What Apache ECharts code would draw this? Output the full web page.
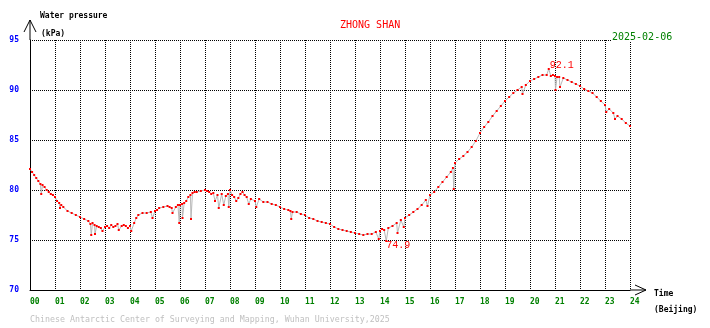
<!DOCTYPE html>
<html>
<head>
<meta charset="utf-8">
<script src="https://cdn.jsdelivr.net/npm/echarts@6/dist/echarts.min.js"></script>
<style>
html,body{margin:0;padding:0;background:#fff;}
#c{width:710px;height:328px;}
</style>
</head>
<body>
<div id="c"></div>
<script>
// ---- data (hour of day, Beijing time) ----
const hours = [
0,0.083,0.167,0.25,0.333,0.417,0.45,0.5,0.583,0.667,0.75,0.833,0.917,
1,1.083,1.167,1.2,1.25,1.333,1.5,1.667,1.833,
2,2.167,2.333,2.417,2.45,2.5,2.583,2.6,2.667,2.75,2.833,2.9,
3,3.083,3.167,3.25,3.333,3.417,3.5,3.55,3.667,3.75,3.833,3.917,
4,4.05,4.167,4.25,4.333,4.5,4.667,4.833,4.9,
5,5.083,5.167,5.333,5.5,5.583,5.667,5.7,5.833,5.917,5.97,
6,6.083,6.1,6.167,6.25,6.333,6.417,6.44,6.5,6.583,6.667,6.833,
7,7.083,7.167,7.25,7.333,7.4,7.5,7.55,7.667,7.75,7.833,7.917,7.95,
8,8.083,8.167,8.25,8.333,8.417,8.5,8.583,8.667,8.75,8.833,
9,9.05,9.167,9.333,9.5,9.667,9.833,
10,10.167,10.333,10.417,10.45,10.5,10.667,10.833,
11,11.167,11.333,11.5,11.667,11.833,
12,12.167,12.333,12.5,12.667,12.833,
13,13.167,13.333,13.5,13.667,13.833,13.95,
14,14.083,14.167,14.25,14.333,14.5,14.667,14.7,14.833,14.95,
15,15.167,15.333,15.5,15.667,15.833,15.9,
16,16.167,16.333,16.5,16.667,16.833,16.917,16.95,
17,17.167,17.333,17.5,17.667,17.833,
18,18.167,18.333,18.5,18.667,18.833,
19,19.167,19.333,19.5,19.667,19.7,19.833,
20,20.167,20.333,20.5,20.667,20.75,20.833,20.917,
21,21.02,21.083,21.167,21.2,21.333,21.5,21.667,21.833,
22,22.167,22.333,22.5,22.667,22.833,
23,23.05,23.167,23.333,23.4,23.5,23.667,23.833,
24
];
const pressure = [
82.1,81.8,81.5,81.2,80.9,80.6,79.6,80.5,80.3,80.0,79.8,79.6,79.5,
79.3,78.9,78.7,78.2,78.5,78.3,77.9,77.7,77.5,
77.3,77.1,76.9,76.6,75.5,76.7,76.5,75.6,76.4,76.3,76.2,75.9,
76.3,76.4,76.2,76.5,76.3,76.4,76.6,76.0,76.4,76.5,76.4,76.2,
76.4,75.9,76.7,77.2,77.5,77.7,77.7,77.8,77.2,
77.9,78.0,78.2,78.3,78.4,78.3,78.2,77.7,78.3,78.5,76.7,
78.5,78.6,77.2,78.7,78.9,79.3,79.5,77.1,79.7,79.8,79.8,79.9,
80.0,79.9,79.8,79.6,79.7,78.9,79.5,78.2,79.6,78.5,79.4,79.6,78.3,
80.0,79.5,79.3,78.9,79.2,79.6,79.8,79.5,79.3,78.6,79.1,
78.9,78.3,79.1,78.8,78.8,78.6,78.5,
78.3,78.1,78.0,77.9,77.1,77.8,77.8,77.6,
77.5,77.2,77.1,76.9,76.8,76.7,
76.6,76.3,76.1,76.0,75.9,75.8,
75.7,75.6,75.5,75.6,75.6,75.8,75.1,
75.9,76.1,76.0,74.9,76.2,76.4,76.7,75.7,77.0,76.3,
77.2,77.5,77.8,78.1,78.5,79.0,78.4,
79.5,79.8,80.3,80.8,81.3,81.8,82.2,80.1,
82.7,83.1,83.4,83.8,84.3,84.9,
85.7,86.3,86.8,87.4,87.9,88.4,
88.9,89.3,89.7,90.0,90.3,89.6,90.5,
90.9,91.1,91.3,91.5,91.5,92.1,91.4,91.5,
91.4,90.0,91.3,91.3,90.3,91.2,91.0,90.8,90.6,
90.4,90.1,89.9,89.7,89.3,88.9,
88.5,87.8,88.1,87.7,87.1,87.4,87.1,86.7,
86.4
];
const yTicks = [70, 75, 80, 85, 95, 90];
const station = 'ZHONG SHAN';
const dateText = '2025-02-06';
const credit = 'Chinese Antarctic Center of Surveying and Mapping, Wuhan University,2025';

const MONO = '"DejaVu Sans Mono", "Liberation Mono", monospace';
const chart = echarts.init(document.getElementById('c'), null, {renderer: 'canvas'});
const seriesData = hours.map((h, i) => [h, pressure[i]]);

chart.setOption({
  animation: false,
  backgroundColor: '#fff',
  grid: {left: 30, right: 80, top: 40, bottom: 38, containLabel: false},
  xAxis: {
    type: 'value', min: 0, max: 24, interval: 1,
    axisLine: {show: true, onZero: false, lineStyle: {color: '#000', width: 1}},
    axisTick: {show: false},
    axisLabel: {
      color: '#008000', fontFamily: MONO, fontSize: 8, fontWeight: 'bold',
      align: 'left', margin: 8,
      formatter: v => (v < 10 ? '0' : '') + v
    },
    splitLine: {show: true, lineStyle: {color: '#000', type: 'dotted', width: 1}}
  },
  yAxis: {
    type: 'value', min: Math.min(...yTicks), max: Math.max(...yTicks), interval: 5,
    axisLine: {show: true, onZero: false, lineStyle: {color: '#000', width: 1}},
    axisTick: {show: false},
    axisLabel: {
      color: '#0000ff', fontFamily: MONO, fontSize: 8, fontWeight: 'bold',
      margin: 11, padding: [0, 0, 5, 0]
    },
    splitLine: {show: true, lineStyle: {color: '#000', type: 'dotted', width: 1}}
  },
  series: [{
    type: 'line',
    data: seriesData,
    showAllSymbol: true,
    symbol: 'rect',
    symbolSize: 2,
    itemStyle: {color: '#ff0000'},
    lineStyle: {color: '#b8b8b8', width: 1},
    markPoint: {
      symbol: 'circle', symbolSize: 1,
      itemStyle: {color: 'rgba(0,0,0,0)'},
      label: {
        show: true, color: '#ff0000', fontFamily: '"Liberation Mono", monospace', fontSize: 10,
        position: 'inside',
        formatter: p => p.value.toFixed(1)
      },
      data: [
        {type: 'max', label: {offset: [13, -4]}},
        {type: 'min', label: {offset: [12, 4]}}
      ]
    }
  }]
});

// Axis arrows & text decorations, positioned from the axes
const o = chart.convertToPixel({gridIndex: 0}, [0, 70]);
const topPt = chart.convertToPixel({gridIndex: 0}, [0, 95]);
const rightPt = chart.convertToPixel({gridIndex: 0}, [24, 70]);
const ax = o[0], ay = o[1];
const yTip = topPt[1] - 20, xTip = rightPt[0] + 16;
const txt = (x, y, s, color, size, extra) => Object.assign({
  type: 'text', x: x, y: y,
  style: Object.assign({text: s, fill: color, font: 'bold ' + size + 'px ' + MONO, verticalAlign: 'middle', align: 'left'}, extra || {})
}, {});

chart.setOption({
  graphic: [
    {type: 'polyline', shape: {points: [[ax, topPt[1]], [ax, yTip]]}, style: {stroke: '#000', lineWidth: 1}},
    {type: 'polyline', shape: {points: [[ax - 6, yTip + 12], [ax, yTip], [ax + 6, yTip + 12]]}, style: {stroke: '#000', lineWidth: 1, fill: null}},
    {type: 'polyline', shape: {points: [[rightPt[0], ay], [xTip, ay]]}, style: {stroke: '#000', lineWidth: 1}},
    {type: 'polyline', shape: {points: [[xTip - 11, ay - 5], [xTip, ay], [xTip - 11, ay + 5]]}, style: {stroke: '#000', lineWidth: 1, fill: null}},
    txt(ax + 10, 16, 'Water pressure', '#000', 8),
    txt(ax + 11, 34, '(kPa)', '#000', 8),
    {type: 'text', x: 340, y: 25, style: {text: station, fill: '#ff0000', font: '10px ' + MONO, verticalAlign: 'middle'}},
    {type: 'text', x: 611, y: 37, style: {text: dateText, fill: '#008000', font: '10px ' + MONO, verticalAlign: 'middle', backgroundColor: '#fff', padding: [0, 0, 0, 1]}},
    txt(xTip + 8, 294, 'Time', '#000', 8),
    txt(xTip + 8, 310, '(Beijing)', '#000', 8),
    {type: 'text', x: ax, y: 320, style: {text: credit, fill: '#c0c0c0', font: '8.3px ' + MONO, verticalAlign: 'middle'}}
  ]
});
</script>
</body>
</html>
